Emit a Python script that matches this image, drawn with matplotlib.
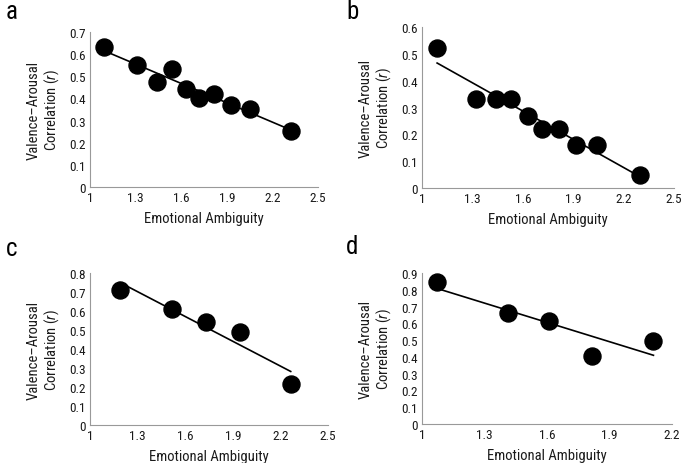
import numpy as np
import matplotlib
matplotlib.use("Agg")
import matplotlib.pyplot as plt

FONTS = ["Roboto Condensed", "Liberation Sans Narrow", "Liberation Sans", "DejaVu Sans"]
plt.rcParams["font.family"] = FONTS
plt.rcParams["mathtext.fontset"] = "custom"
plt.rcParams["mathtext.it"] = "Roboto Condensed:italic"
plt.rcParams["mathtext.rm"] = "Roboto Condensed"

# panel a
a_x = [1.09, 1.31, 1.44, 1.54, 1.63, 1.72, 1.815, 1.925, 2.055, 2.325]
a_y = [0.632, 0.549, 0.473, 0.534, 0.443, 0.401, 0.421, 0.371, 0.352, 0.253]
# panel b
b_x = [1.09, 1.32, 1.44, 1.53, 1.633, 1.712, 1.814, 1.916, 2.039, 2.30]
b_y = [0.52, 0.33, 0.33, 0.33, 0.27, 0.22, 0.22, 0.16, 0.16, 0.05]
# panel c
c_x = [1.19, 1.514, 1.734, 1.944, 2.265]
c_y = [0.713, 0.611, 0.541, 0.491, 0.218]
# panel d
d_x = [1.071, 1.415, 1.611, 1.817, 2.111]
d_y = [0.845, 0.664, 0.612, 0.404, 0.493]

panels = [
    ("a", a_x, a_y, [1, 1.3, 1.6, 1.9, 2.2, 2.5], 0.7),
    ("b", b_x, b_y, [1, 1.3, 1.6, 1.9, 2.2, 2.5], 0.6),
    ("c", c_x, c_y, [1, 1.3, 1.6, 1.9, 2.2, 2.5], 0.8),
    ("d", d_x, d_y, [1, 1.3, 1.6, 1.9, 2.2], 0.9),
]

W, H = 685, 464
# axes boxes in pixels: left, top, right, bottom
boxes = [(90, 33, 318, 188), (422, 28, 674, 189),
         (90, 274, 328, 426), (422, 274, 672, 425)]
letters_xy = [(6, 0), (346, 0), (6, 237), (346, 235)]

fig = plt.figure(figsize=(W / 100, H / 100), dpi=100)
for (lab, xs, ys, xt, ymax), (l, t, r, b), (lx, ly) in zip(panels, boxes, letters_xy):
    ax = fig.add_axes([l / W, 1 - b / H, (r - l) / W, (b - t) / H])
    xs = np.array(xs); ys = np.array(ys)
    k, c0 = np.polyfit(xs, ys, 1)
    xl = np.array([xs.min(), xs.max()])
    ax.plot(xl, k * xl + c0, color="black", lw=1.2, zorder=2)
    ax.scatter(xs, ys, s=150, color="black", zorder=3, clip_on=False)
    ax.set_xlim(xt[0], xt[-1])
    ax.set_ylim(0, ymax)
    ax.set_xticks(xt)
    ax.set_xticklabels([f"{v:g}" for v in xt])
    yt = np.round(np.arange(0, ymax + 0.001, 0.1), 1)
    ax.set_yticks(yt)
    ax.set_yticklabels([f"{v:g}" for v in yt])
    ax.tick_params(length=0, labelsize=9.5, pad=3, colors="#1a1a1a")
    for s in ["top", "right"]:
        ax.spines[s].set_visible(False)
    for s in ["left", "bottom"]:
        ax.spines[s].set_color("#999999")
        ax.spines[s].set_linewidth(0.8)
    ax.set_xlabel("Emotional Ambiguity", fontsize=10.5, labelpad=5, color="#1a1a1a")
    ax.set_ylabel("Valence\u2013Arousal\nCorrelation ($\\it{r}$)", fontsize=10.5,
                  labelpad=6, color="#1a1a1a", linespacing=1.1)
    fig.text(lx / W, 1 - ly / H, lab, fontsize=18, va="top", ha="left")

fig.savefig("out.png", dpi=100)
